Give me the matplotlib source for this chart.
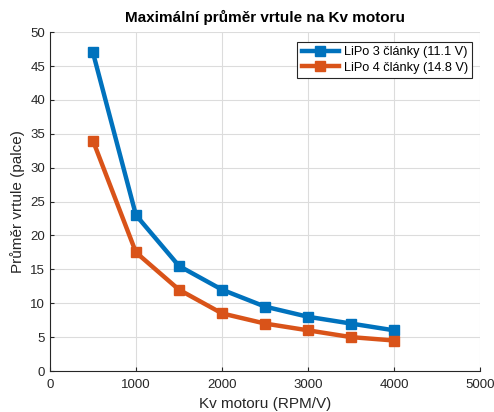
import matplotlib
matplotlib.use("Agg")
import matplotlib.pyplot as plt

kv = [500, 1000, 1500, 2000, 2500, 3000, 3500, 4000]
prumer_3s = [47, 23, 15.5, 12, 9.5, 8, 7, 6]
prumer_4s = [34, 17.5, 12, 8.5, 7, 6, 5, 4.5]
labels = ["LiPo 3 články (11.1 V)", "LiPo 4 články (14.8 V)"]

plt.rcParams['font.family'] = ['Liberation Sans', 'DejaVu Sans']

fig = plt.figure(figsize=(4.94, 4.12), dpi=100)
ax = fig.add_axes([0.101, 0.0995, 0.871, 0.8225])

ax.plot(kv, prumer_3s, color='#0072BD', lw=3.2, marker='s', ms=7.5, label=labels[0])
ax.plot(kv, prumer_4s, color='#D95319', lw=3.2, marker='s', ms=7.5, label=labels[1])

ax.set_xlim(0, 5000)
ax.set_ylim(0, 50)
ax.set_xticks(range(0, 5001, 1000))
ax.set_yticks(range(0, 51, 5))
ax.grid(True, color='#dcdcdc', lw=0.8)
ax.set_axisbelow(True)
for s in ['top', 'right']:
    ax.spines[s].set_visible(False)
for s in ['left', 'bottom']:
    ax.spines[s].set_color('#262626')
    ax.spines[s].set_linewidth(0.8)
ax.tick_params(colors='#262626', labelsize=9.5, direction='in', length=3)
ax.tick_params(axis='x', pad=6)

ax.set_title("Maximální průměr vrtule na Kv motoru", fontsize=11, fontweight='bold', pad=7)
ax.set_xlabel("Kv motoru (RPM/V)", fontsize=11, color='#262626')
ax.set_ylabel("Průměr vrtule (palce)", fontsize=11, color='#262626')

leg = ax.legend(loc='upper right', bbox_to_anchor=(0.997, 0.99), fontsize=9.2, fancybox=False,
                edgecolor='#262626', framealpha=1, handlelength=2.9, borderpad=0.35,
                labelspacing=0.25, handletextpad=0.4)
leg.get_frame().set_linewidth(0.8)

fig.savefig("out.png", dpi=100)
